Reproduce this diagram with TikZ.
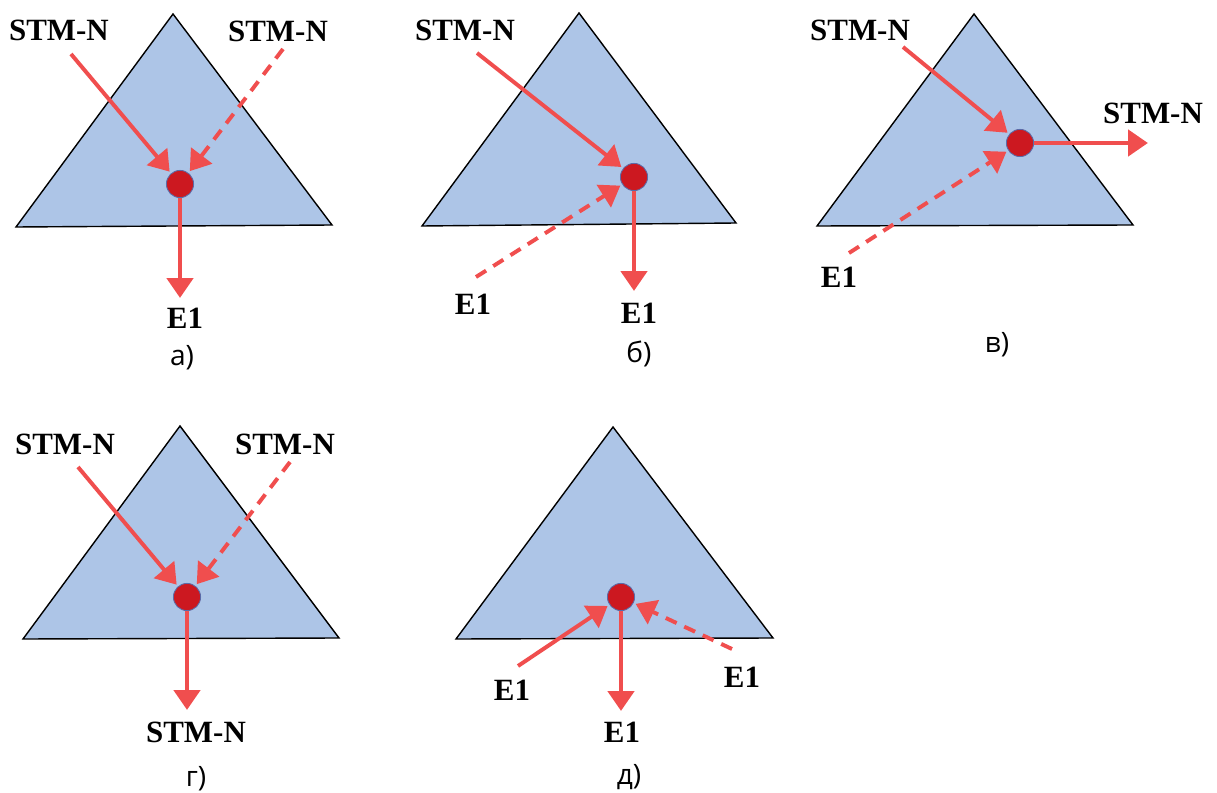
\documentclass[tikz,border=0pt]{standalone}
\usepackage{fontspec}
\setmainfont{Liberation Serif}
\newfontfamily\captfont{Open Sans}
\usetikzlibrary{arrows.meta}
\definecolor{triblue}{HTML}{ADC5E7}
\definecolor{arrred}{HTML}{F04E4E}
\definecolor{dotred}{HTML}{CC1820}
\definecolor{dotrim}{HTML}{5B6BA8}

\begin{document}
\begin{tikzpicture}[x=0.025cm,y=-0.025cm,
		tri/.style={draw=black,line width=1pt,fill=triblue},
		pt/.style={circle,draw=dotrim,line width=0.6pt,fill=dotred,inner sep=0pt,minimum size=0.68cm},
		arr/.style={draw=arrred,line width=2.8pt,-{Triangle[length=14pt,width=18.5pt]},shorten >=1.5pt},
		dsh/.style={arr,dash pattern=on 8.5pt off 6pt},
		lbl/.style={inner sep=0pt,font=\fontsize{22}{24}\selectfont\bfseries},
		capt/.style={inner sep=0pt,font=\fontsize{20}{24}\selectfont\captfont}]
		\useasboundingbox (0,0) rectangle (1217,793);
		
		% a)
		\draw[tri] (173,14) -- (16,227) -- (332,225) -- cycle;
		\node[pt] (dotA) at (180,184) {};
		\node[lbl] (stmA1) at (59,30) {STM-N};
		\node[lbl] (stmA2) at (278,31) {STM-N};
		\node[lbl] (eA) at (185,318) {E1};
		\node[capt] (capA) at (182,358) {а)};
		\coordinate (inA1) at (71,54);
		\coordinate (inA2) at (283,49);
		\coordinate (outA) at (180,300);
		\draw[arr] (inA1) -- (dotA);
		\draw[dsh] (inA2) -- (dotA);
		\draw[arr] (dotA) -- (outA);
		
		% б)
		\draw[tri] (579,13) -- (422,226) -- (736,223) -- cycle;
		\node[pt] (dotB) at (634,177) {};
		\node[lbl] (stmB) at (465,30) {STM-N};
		\node[lbl] (eB1) at (473,304) {E1};
		\node[lbl] (eB2) at (639,313) {E1};
		\node[capt] (capB) at (639,354) {б)};
		\coordinate (inB1) at (477,53);
		\coordinate (inB2) at (476,277);
		\coordinate (outB) at (634,293);
		\draw[arr] (inB1) -- (dotB);
		\draw[dsh] (inB2) -- (dotB);
		\draw[arr] (dotB) -- (outB);
		
		% в)
		\draw[tri] (974,14) -- (817,226) -- (1133,225) -- cycle;
		\node[pt] (dotC) at (1020,143) {};
		\node[lbl] (stmC1) at (860,30) {STM-N};
		\node[lbl] (stmC2) at (1153,113) {STM-N};
		\node[lbl] (eC) at (839,277) {E1};
		\node[capt] (capC) at (997,345) {в)};
		\coordinate (inC1) at (903,47);
		\coordinate (inC2) at (849,253);
		\coordinate (outC) at (1150,143);
		\draw[arr] (inC1) -- (dotC);
		\draw[dsh] (inC2) -- (dotC);
		\draw[arr] (dotC) -- (outC);
		
		% г)
		\draw[tri] (180,426) -- (23,639) -- (339,638) -- cycle;
		\node[pt] (dotD) at (187,597) {};
		\node[lbl] (stmD1) at (65,444) {STM-N};
		\node[lbl] (stmD2) at (285,444) {STM-N};
		\node[lbl] (stmD3) at (196,732) {STM-N};
		\node[capt] (capD) at (196,779) {г)};
		\coordinate (inD1) at (78,467);
		\coordinate (inD2) at (290,462);
		\coordinate (outD) at (187,712);
		\draw[arr] (inD1) -- (dotD);
		\draw[dsh] (inD2) -- (dotD);
		\draw[arr] (dotD) -- (outD);
		
		% д)
		\draw[tri] (613,427) -- (456,639) -- (773,638) -- cycle;
		\node[pt] (dotE) at (621,597) {};
		\node[lbl] (eE1) at (512,690) {E1};
		\node[lbl] (eE2) at (622,732) {E1};
		\node[lbl] (eE3) at (742,677) {E1};
		\node[capt] (capE) at (629,777) {д)};
		\coordinate (inE1) at (518,666);
		\coordinate (inE2) at (732,649);
		\coordinate (outE) at (621,713);
		\draw[arr] (inE1) -- (dotE);
		\draw[dsh] (inE2) -- (dotE);
		\draw[arr] (dotE) -- (outE);
	\end{tikzpicture}
\end{document}
